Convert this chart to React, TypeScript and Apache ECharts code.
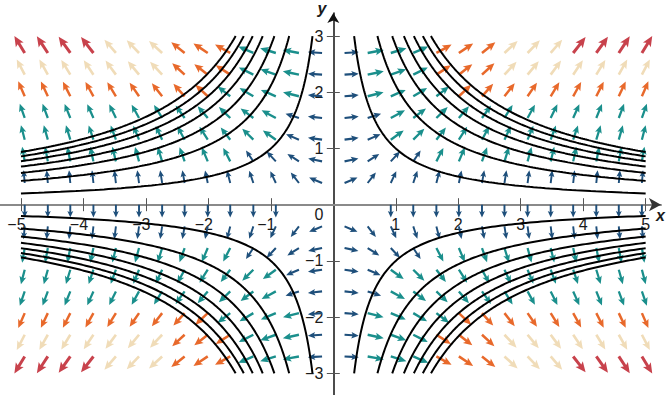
import React, { useEffect, useRef } from "react";
import * as echarts from "echarts";

// ---- data ----
const X_TICKS = [-5, -4, -3, -2, -1, 1, 2, 3, 4, 5];
const Y_TICKS = [-3, -2, -1, 1, 2, 3];
const Y_LABELS = [-3, -2, -1, 0, 1, 2, 3];
// level curves xy = ±c
const LEVELS = [1, 2.12, 2.83, 3.39, 3.87, 4.3, 4.69];
// arrow grid (tail points), positive half; mirrored to the other quadrants
const COLS_POS = [0.18, 0.55, 0.92, 1.28, 1.65, 2.01, 2.38, 2.74, 3.11, 3.48, 3.84, 4.21, 4.57, 4.94];
const ROWS_POS = [0, 0.386, 0.771, 1.157, 1.543, 1.929, 2.314, 2.7];
// magnitude class of each arrow (-1 = no arrow); row 0 lies just below the x axis
const COLOR_INDEX = [
  [-1, -1, 0, 0, 0, 0, 0, 0, 0, 0, 0, 0, 0, 0],
  [0, 0, 0, 0, 0, 0, 0, 0, 0, 0, 0, 0, 0, 0],
  [0, 0, 0, 0, 1, 1, 1, 1, 1, 1, 1, 1, 1, 1],
  [0, 0, 1, 1, 1, 1, 1, 1, 1, 1, 1, 1, 1, 1],
  [0, 0, 1, 1, 1, 1, 1, 1, 1, 1, 1, 1, 1, 1],
  [0, 1, 1, 1, 1, 2, 2, 2, 2, 2, 2, 2, 2, 2],
  [0, 1, 1, 1, 2, 2, 2, 3, 3, 3, 3, 3, 3, 3],
  [0, 1, 1, 1, 2, 2, 2, 3, 3, 3, 4, 4, 4, 4],
];

// ---- styling constants ----
const PALETTE = ["#1e4f7b", "#1a8f8c", "#e8692b", "#f0dcb8", "#c8424c"];
const ARROW_LEN_BY_CLASS = [0.228, 0.265, 0.285, 0.3, 0.345]; // data units
const FONT = "Liberation Sans, Arial, Helvetica, sans-serif";
const FS = 16;
const W = 667;
const H = 395;
const GRID_LEFT = 0;
const GRID_RIGHT = 6;
const GRID_TOP = 13;
const GRID_BOTTOM = 0;
const X_MIN = -5.3355;
const X_MAX = 5.2457;
const Y_MIN = -3.386;
const Y_MAX = 3.411;
const PLOT_W = W - GRID_LEFT - GRID_RIGHT;
const PLOT_H = H - GRID_TOP - GRID_BOTTOM;
const ORIGIN_X = GRID_LEFT + (PLOT_W * (0 - X_MIN)) / (X_MAX - X_MIN);
const ORIGIN_Y = GRID_TOP + (PLOT_H * (Y_MAX - 0)) / (Y_MAX - Y_MIN);
const SHAFT_HALF_R = 0.075;
const HEAD_HALF_R = 0.23;
const HEAD_LEN_R = 0.52;
const HEAD_AXIS_R = 0.44;

function buildArrows() {
  const out: number[][] = [];
  ROWS_POS.forEach((ry, ri) => {
    const ySigns = ri === 0 ? [-1] : [1, -1];
    ySigns.forEach((sy) => {
      COLS_POS.forEach((cx, ci) => {
        const k = COLOR_INDEX[ri][ci];
        if (k < 0) return;
        [1, -1].forEach((sx) => {
          const y = ri === 0 ? -0.001 : sy * ry;
          out.push([sx * cx, y, k]);
        });
      });
    });
  });
  return out;
}

function buildCurves() {
  const series: any[] = [];
  const quads = [
    [1, 1],
    [-1, 1],
    [-1, -1],
    [1, -1],
  ];
  const N = 140;
  LEVELS.forEach((c) => {
    quads.forEach(([sx, sy]) => {
      const data: number[][] = [];
      for (let i = 0; i <= N; i++) {
        const ax = (c / 3) * Math.pow(15 / c, i / N);
        data.push([sx * ax, (sy * c) / ax]);
      }
      series.push({
        type: "line",
        data,
        symbol: "none",
        showSymbol: false,
        smooth: false,
        silent: true,
        clip: false,
        z: 5,
        lineStyle: { color: "#000", width: 2 },
      });
    });
  });
  return series;
}

function renderArrow(params: any, api: any) {
  const x = api.value(0);
  const y = api.value(1);
  const k = api.value(2);
  // field direction: gradient of ln|xy| = (1/x, 1/y)
  const fx = 1 / x;
  const fy = 1 / y;
  const n = Math.hypot(fx, fy);
  const L = ARROW_LEN_BY_CLASS[k];
  const p0 = api.coord([x, y]);
  const p1 = api.coord([x + (L * fx) / n, y + (L * fy) / n]);
  const dx = p1[0] - p0[0];
  const dy = p1[1] - p0[1];
  const len = Math.hypot(dx, dy);
  const ux = dx / len;
  const uy = dy / len;
  const nx = -uy;
  const ny = ux;
  const sw = SHAFT_HALF_R * len;
  const hw = HEAD_HALF_R * len;
  const hl = HEAD_LEN_R * len;
  const ha = HEAD_AXIS_R * len;
  const at = (d: number, w: number) => [p0[0] + ux * d + nx * w, p0[1] + uy * d + ny * w];
  const points = [
    at(0, sw),
    at(len - ha, sw),
    at(len - hl, hw),
    at(len, 0),
    at(len - hl, -hw),
    at(len - ha, -sw),
    at(0, -sw),
  ];
  return {
    type: "polygon",
    shape: { points },
    style: { fill: PALETTE[k] },
  };
}

const labelRich = {
  n: { fontFamily: FONT, fontSize: FS, color: "#1a1a1a", padding: [0, 9, 0, 0] },
  p: { fontFamily: FONT, fontSize: FS, color: "#1a1a1a" },
  z: { fontFamily: FONT, fontSize: FS, color: "#1a1a1a", padding: [19, 0, 0, 0] },
};

const tickStyle = { color: "#555", width: 1 };

function buildOption(): any {
  return {
    animation: false,
    backgroundColor: "#fff",
    grid: {
      left: GRID_LEFT,
      right: GRID_RIGHT,
      top: GRID_TOP,
      bottom: GRID_BOTTOM,
      containLabel: false,
      outerBoundsMode: "none",
    },
    xAxis: [
      {
        type: "value",
        min: X_MIN,
        max: X_MAX,
        position: "bottom",
        offset: -(H - GRID_BOTTOM - ORIGIN_Y),
        splitLine: { show: false },
        axisLine: {
          show: true,
          onZero: false,
          lineStyle: { color: "#8a8a8a", width: 2 },
        },
        axisTick: {
          show: true,
          inside: false,
          length: 6.5,
          customValues: X_TICKS,
          lineStyle: tickStyle,
        },
        axisLabel: {
          show: true,
          customValues: X_TICKS,
          margin: 20,
          verticalAlign: "middle",
          formatter: (v: number) => (v < 0 ? `{n|−${-v}}` : `{p|${v}}`),
          rich: labelRich,
        },
        name: "x",
        nameLocation: "end",
        nameGap: 2,
        nameTextStyle: {
          fontFamily: FONT,
          fontSize: 16,
          fontStyle: "italic",
          fontWeight: "bold",
          color: "#1a1a1a",
          align: "right",
          verticalAlign: "top",
          padding: [3, 0, 0, 0],
        },
      },
      {
        type: "value",
        min: X_MIN,
        max: X_MAX,
        position: "top",
        offset: -(ORIGIN_Y - GRID_TOP),
        splitLine: { show: false },
        axisLine: {
          show: true,
          onZero: false,
          symbol: ["none", "arrow"],
          symbolSize: [10, 12],
          lineStyle: { color: "#333", width: 0 },
        },
        axisTick: {
          show: true,
          inside: false,
          length: 6.5,
          customValues: X_TICKS,
          lineStyle: tickStyle,
        },
        axisLabel: { show: false },
      },
    ],
    yAxis: [
      {
        type: "value",
        min: Y_MIN,
        max: Y_MAX,
        position: "left",
        offset: -(ORIGIN_X - GRID_LEFT),
        splitLine: { show: false },
        axisLine: {
          show: true,
          onZero: false,
          symbol: ["none", "arrow"],
          symbolSize: [9, 10],
          lineStyle: { color: "#111", width: 1.5 },
        },
        axisTick: {
          show: true,
          inside: false,
          length: 6.5,
          customValues: Y_TICKS,
          lineStyle: tickStyle,
        },
        axisLabel: {
          show: true,
          customValues: Y_LABELS,
          margin: 10,
          formatter: (v: number) => (v === 0 ? "{z|0}" : v < 0 ? `{p|−${-v}}` : `{p|${v}}`),
          rich: labelRich,
        },
        name: "y",
        nameLocation: "end",
        nameGap: 13,
        nameTextStyle: {
          fontFamily: FONT,
          fontSize: 16,
          fontStyle: "italic",
          fontWeight: "bold",
          color: "#1a1a1a",
          align: "right",
          verticalAlign: "top",
          padding: [0, 7, 0, 0],
        },
      },
      {
        type: "value",
        min: Y_MIN,
        max: Y_MAX,
        position: "right",
        offset: -(W - GRID_RIGHT - ORIGIN_X),
        splitLine: { show: false },
        axisLine: { show: false, onZero: false },
        axisTick: {
          show: true,
          inside: false,
          length: 6.5,
          customValues: Y_TICKS,
          lineStyle: tickStyle,
        },
        axisLabel: { show: false },
      },
    ],
    series: [
      {
        type: "custom",
        xAxisIndex: 0,
        yAxisIndex: 0,
        data: buildArrows(),
        renderItem: renderArrow,
        silent: true,
        clip: false,
        z: 2,
      },
      ...buildCurves(),
    ],
  };
}

export default function App() {
  const ref = useRef<HTMLDivElement>(null);
  useEffect(() => {
    if (!ref.current) return;
    const chart = echarts.init(ref.current, undefined, { renderer: "svg" });
    chart.setOption(buildOption());
    return () => chart.dispose();
  }, []);
  return (
    <div
      ref={ref}
      style={{ position: "absolute", left: 0, top: 0, width: W, height: H, background: "#fff" }}
    />
  );
}
